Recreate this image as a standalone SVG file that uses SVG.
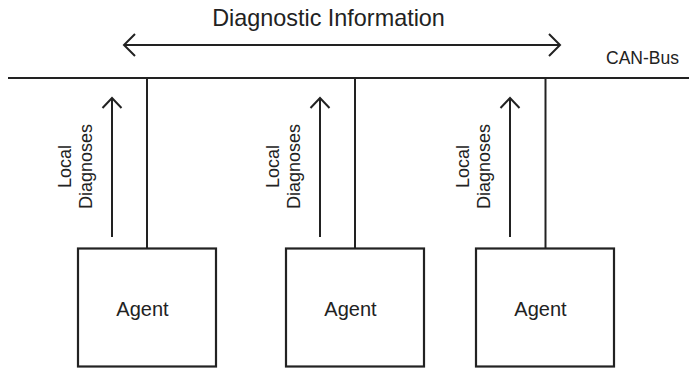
<svg xmlns="http://www.w3.org/2000/svg" width="689" height="368" viewBox="0 0 689 368">
  <style>
    .ln { stroke: #222; stroke-width: 2; fill: none; }
    .box { stroke: #222; stroke-width: 2.2; fill: #fff; }
    .t { font-family: "Liberation Sans", Arial, Helvetica, sans-serif; fill: #222; }
    .title { font-size: 23.4px; text-anchor: middle; }
    .agent { font-size: 20px; text-anchor: middle; }
    .side { font-size: 18px; text-anchor: middle; }
    .bus { font-size: 17.5px; text-anchor: end; }
  </style>
  <defs>
    <marker id="chevBig" markerUnits="userSpaceOnUse" markerWidth="24" markerHeight="24" refX="0" refY="0" orient="auto-start-reverse" overflow="visible">
      <path d="M-11,-11 L0,0 L-11,11" fill="none" stroke="#222" stroke-width="2"/>
    </marker>
    <marker id="chev" markerUnits="userSpaceOnUse" markerWidth="24" markerHeight="24" refX="0" refY="0" orient="auto" overflow="visible">
      <path d="M-10,-9.5 L0,0 L-10,9.5" fill="none" stroke="#222" stroke-width="2"/>
    </marker>
  </defs>

  <!-- broadcast of diagnostic information over the bus -->
  <text class="t title" x="328.5" y="26">Diagnostic Information</text>
  <text class="t bus" x="679" y="64">CAN-Bus</text>

  <g id="connectors">
    <line class="ln" x1="124" y1="45" x2="560" y2="45" marker-start="url(#chevBig)" marker-end="url(#chevBig)"/>
    <!-- bus line -->
    <line class="ln" x1="8" y1="78" x2="689" y2="78"/>
    <!-- taps from bus to agents -->
    <line class="ln" x1="147" y1="77" x2="147" y2="248.5"/>
    <line class="ln" x1="355" y1="77" x2="355" y2="248.5"/>
    <line class="ln" x1="545.5" y1="77" x2="545.5" y2="248.5"/>
    <!-- local diagnoses arrows -->
    <line class="ln" x1="112" y1="237" x2="112" y2="98" marker-end="url(#chev)"/>
    <line class="ln" x1="320" y1="237" x2="320" y2="98" marker-end="url(#chev)"/>
    <line class="ln" x1="510" y1="237" x2="510" y2="98" marker-end="url(#chev)"/>
  </g>

  <!-- side labels -->
  <g id="label1">
    <text class="t side" transform="translate(71,166.5) rotate(-90)">Local</text>
    <text class="t side" transform="translate(92,166.5) rotate(-90)">Diagnoses</text>
  </g>
  <g id="label2">
    <text class="t side" transform="translate(279,166.5) rotate(-90)">Local</text>
    <text class="t side" transform="translate(300,166.5) rotate(-90)">Diagnoses</text>
  </g>
  <g id="label3">
    <text class="t side" transform="translate(469,166.5) rotate(-90)">Local</text>
    <text class="t side" transform="translate(490,166.5) rotate(-90)">Diagnoses</text>
  </g>

  <g id="agent1">
    <rect class="box" x="78" y="248.5" width="138" height="118"/>
    <text class="t agent" x="142.5" y="316">Agent</text>
  </g>
  <g id="agent2">
    <rect class="box" x="286" y="248.5" width="138" height="118"/>
    <text class="t agent" x="350.5" y="316">Agent</text>
  </g>
  <g id="agent3">
    <rect class="box" x="476" y="248.5" width="138" height="118"/>
    <text class="t agent" x="540.5" y="316">Agent</text>
  </g>
</svg>
